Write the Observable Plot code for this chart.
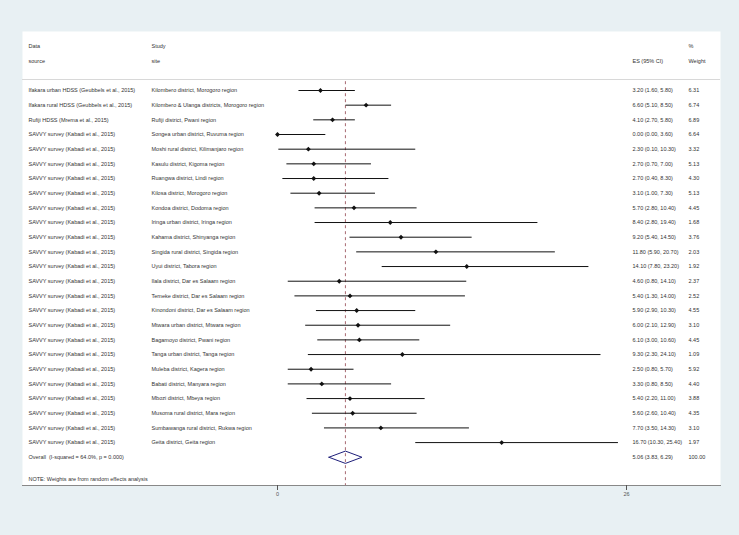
<!DOCTYPE html>
<html><head><meta charset="utf-8">
<script src="https://cdn.jsdelivr.net/npm/d3@7"></script>
<script src="https://cdn.jsdelivr.net/npm/@observablehq/plot@0.6"></script>
<style>
body{margin:0;background:#e8f0f3;}
#chart svg{display:block;background:transparent;}
</style>
</head><body><div id="chart"></div>
<script>
const SAVVY = "SAVVY survey (Kabadi et al., 2015)";
const sources = [
  "Ifakara urban HDSS (Geubbels et al., 2015)",
  "Ifakara rural HDSS (Geubbels et al., 2015)",
  "Rufiji HDSS (Mrema et al., 2015)",
  SAVVY, SAVVY, SAVVY, SAVVY, SAVVY, SAVVY, SAVVY, SAVVY, SAVVY, SAVVY,
  SAVVY, SAVVY, SAVVY, SAVVY, SAVVY, SAVVY, SAVVY, SAVVY, SAVVY, SAVVY, SAVVY, SAVVY
];
const sites = [
  "Kilombero district, Morogoro region",
  "Kilombero & Ulanga districts, Morogoro region",
  "Rufiji district, Pwani region",
  "Songea urban district, Ruvuma region",
  "Moshi rural district, Kilimanjaro region",
  "Kasulu district, Kigoma region",
  "Ruangwa district, Lindi region",
  "Kilosa district, Morogoro region",
  "Kondoa district, Dodoma region",
  "Iringa urban district, Iringa region",
  "Kahama district, Shinyanga region",
  "Singida rural district, Singida region",
  "Uyui district, Tabora region",
  "Ilala district, Dar es Salaam region",
  "Temeke district, Dar es Salaam region",
  "Kinondoni district, Dar es Salaam region",
  "Mtwara urban district, Mtwara region",
  "Bagamoyo district, Pwani region",
  "Tanga urban district, Tanga region",
  "Muleba district, Kagera region",
  "Babati district, Manyara region",
  "Mbozi district, Mbeya region",
  "Musoma rural district, Mara region",
  "Sumbawanga rural district, Rukwa region",
  "Geita district, Geita region"
];
const es = [3.20, 6.60, 4.10, 0.00, 2.30, 2.70, 2.70, 3.10, 5.70, 8.40, 9.20, 11.80, 14.10, 4.60, 5.40, 5.90, 6.00, 6.10, 9.30, 2.50, 3.30, 5.40, 5.60, 7.70, 16.70];
const lo = [1.60, 5.10, 2.70, 0.00, 0.10, 0.70, 0.40, 1.00, 2.80, 2.80, 5.40, 5.90, 7.80, 0.80, 1.30, 2.90, 2.10, 3.00, 2.30, 0.80, 0.80, 2.20, 2.60, 3.50, 10.30];
const hi = [5.80, 8.50, 5.80, 3.60, 10.30, 7.00, 8.30, 7.30, 10.40, 19.40, 14.50, 20.70, 23.20, 14.10, 14.00, 10.30, 12.90, 10.60, 24.10, 5.70, 8.50, 11.00, 10.40, 14.30, 25.40];
const weights = ["6.31", "6.74", "6.89", "6.64", "3.32", "5.13", "4.30", "5.13", "4.45", "1.68", "3.76", "2.03", "1.92", "2.37", "2.52", "4.55", "3.10", "4.45", "1.09", "5.92", "4.40", "3.88", "4.35", "3.10", "1.97"];
const overallLabel = "Overall  (I-squared = 64.0%, p = 0.000)";
const overallES = 5.06, overallLo = 3.83, overallHi = 6.29, overallWeight = "100.00";
const noteText = "NOTE: Weights are from random effects analysis";
const xTicks = [0, 26];

const fmt = v => v.toFixed(2);
const rows = sources.map((s, i) => ({
  row: i, source: s, site: sites[i], es: es[i], lo: lo[i], hi: hi[i],
  ci: `${fmt(es[i])} (${fmt(lo[i])}, ${fmt(hi[i])})`, weight: weights[i]
}));
const nRows = rows.length;
const overallRow = nRows;
const noteRow = nRows + 1.5;
const headerRows = [-3, -2];
const sepRow = -0.75;
const diamond = [
  {x: overallLo, y: overallRow},
  {x: overallES, y: overallRow - 0.42},
  {x: overallHi, y: overallRow},
  {x: overallES, y: overallRow + 0.42},
  {x: overallLo, y: overallRow}
];
const textRows = [
  ...rows,
  {row: overallRow, source: overallLabel, site: "", ci: `${fmt(overallES)} (${fmt(overallLo)}, ${fmt(overallHi)})`, weight: overallWeight}
];

const W = 739, H = 535;
const rowStep = 14.67, row0 = 90;
const yMax = (485 - row0) / rowStep;
const fs = 5.5;
const tc = "#333";
const font = "Liberation Sans, Arial, Helvetica, sans-serif";

const chart = Plot.plot({
  width: W, height: H,
  marginLeft: 22, marginRight: 19, marginTop: 31, marginBottom: 50,
  style: {fontFamily: font, background: "transparent", overflow: "visible"},
  x: {domain: [0, 26], range: [277, 626], axis: null},
  y: {domain: [0, 1], range: [row0, row0 + rowStep], axis: null},
  marks: [
    Plot.frame({fill: "white", stroke: null}),
    Plot.ruleY([sepRow], {stroke: "#d8d8d8", strokeWidth: 1}),
    Plot.ruleX([overallES], {y1: sepRow + 0.15, y2: yMax, stroke: "#a86a72", strokeWidth: 1, strokeDasharray: "3,3"}),
    Plot.ruleY(rows, {y: "row", x1: "lo", x2: "hi", stroke: "#111", strokeWidth: 1}),
    Plot.dot(rows, {x: "es", y: "row", symbol: "diamond2", r: 2.2, fill: "#111", stroke: null}),
    Plot.line(diamond, {x: "x", y: "y", stroke: "#1f1f7a", strokeWidth: 1, fill: "none"}),
    // header
    Plot.text(["Data", "source"], {y: (d, i) => headerRows[i], text: d => d, frameAnchor: "left", dx: 6, textAnchor: "start", fontSize: fs, fill: tc}),
    Plot.text(["Study", "site"], {y: (d, i) => headerRows[i], text: d => d, frameAnchor: "left", dx: 129, textAnchor: "start", fontSize: fs, fill: tc}),
    Plot.text(["ES (95% CI)"], {y: headerRows[1], text: d => d, frameAnchor: "left", dx: 610, textAnchor: "start", fontSize: fs, fill: tc}),
    Plot.text(["%", "Weight"], {y: (d, i) => headerRows[i], text: d => d, frameAnchor: "left", dx: 666, textAnchor: "start", fontSize: fs, fill: tc}),
    // rows
    Plot.text(textRows, {y: "row", text: "source", frameAnchor: "left", dx: 6, textAnchor: "start", fontSize: fs, fill: tc}),
    Plot.text(textRows, {y: "row", text: "site", frameAnchor: "left", dx: 129, textAnchor: "start", fontSize: fs, fill: tc}),
    Plot.text(textRows, {y: "row", text: "ci", frameAnchor: "left", dx: 610, textAnchor: "start", fontSize: fs, fill: tc}),
    Plot.text(textRows, {y: "row", text: "weight", frameAnchor: "left", dx: 666, textAnchor: "start", fontSize: fs, fill: tc}),
    Plot.text([noteText], {y: noteRow, text: d => d, frameAnchor: "left", dx: 6, textAnchor: "start", fontSize: fs, fill: tc}),
    // axis
    Plot.frame({anchor: "bottom", stroke: "#888", strokeWidth: 1}),
    Plot.axisX(xTicks, {anchor: "bottom", tickSize: 5, tickPadding: 2, fontSize: fs, stroke: "#555", fill: "#555", tickFormat: d => String(d)})
  ]
});
document.getElementById("chart").appendChild(chart);
</script>
</body></html>
